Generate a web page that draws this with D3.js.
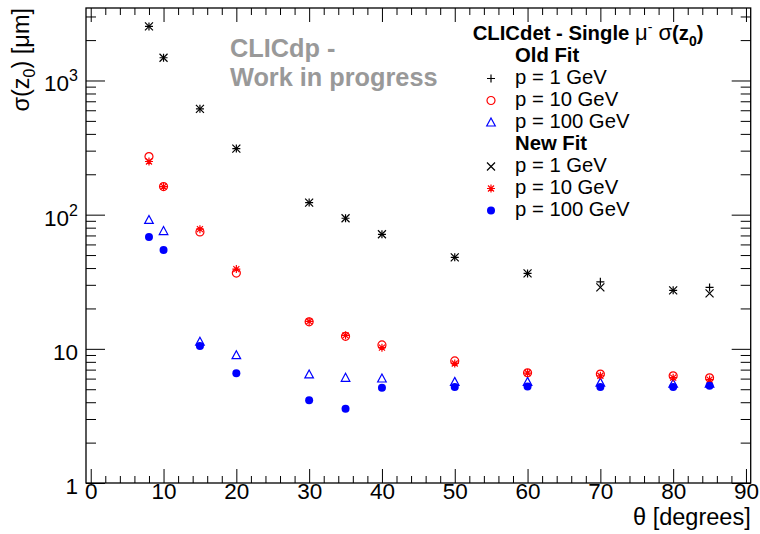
<!DOCTYPE html>
<html>
<head>
<meta charset="utf-8">
<script src="https://cdn.jsdelivr.net/npm/d3@7/dist/d3.min.js"></script>
<style>
  body, html { margin: 0; padding: 0; background: #fff; }
  svg { display: block; font-family: "Liberation Sans", Arial, Helvetica, sans-serif; }
</style>
</head>
<body>
<svg width="760" height="534"></svg>
<script>

  // polar angle of the muon, degrees
  var theta = [8, 10, 15, 20, 30, 35, 40, 50, 60, 70, 80, 85];

  // sigma(z0) in micrometres, old fit
  var old1   = [2530, 1477, 615, 311, 123, 94, 71.4, 48.1, 36.5, 31.6, 27.3, 28.7];
  var old10  = [271, 162, 74.3, 36.7, 15.9, 12.4, 10.7, 8.13, 6.62, 6.48, 6.29, 6.08];
  var old100 = [91.3, 75.5, 11.3, 8.97, 6.44, 6.08, 6.01, 5.67, 5.67, 5.6, 5.5, 5.5];

  // sigma(z0) in micrometres, new fit
  var new1   = [2530, 1477, 615, 311, 123, 94, 71.4, 48.1, 36.5, 28.7, 27.3, 25.9];
  var new10  = [249, 162, 78, 39.3, 16.0, 12.6, 10.2, 7.78, 6.6, 6.3, 6.1, 5.9];
  var new100 = [68.2, 54.5, 10.5, 6.59, 4.14, 3.57, 5.12, 5.2, 5.25, 5.2, 5.2, 5.3];

  var xMajor = [0, 10, 20, 30, 40, 50, 60, 70, 80, 90];
  var yMajor = [1, 10, 100, 1000];
  var yLabels = [['1', ''], ['10', ''], ['10', '2'], ['10', '3']];

  var series = [
    { name: 'p = 1 GeV',   values: old1,   marker: 'plus',     color: '#000' },
    { name: 'p = 10 GeV',  values: old10,  marker: 'circle',   color: '#f00' },
    { name: 'p = 100 GeV', values: old100, marker: 'triangle', color: '#00f' },
    { name: 'p = 1 GeV',   values: new1,   marker: 'cross',    color: '#000' },
    { name: 'p = 10 GeV',  values: new10,  marker: 'star',     color: '#f00' },
    { name: 'p = 100 GeV', values: new100, marker: 'dot',      color: '#00f' }
  ];

  var padL = 86, padR = 750.7, padT = 8, padB = 483;

  var x = d3.scaleLinear().domain([-0.65, 90.65]).range([padL, padR]);
  var y = d3.scaleLog().domain([1, 3470]).range([padB, padT]);

  var svg = d3.select('svg');

  // minor tick values
  var xMinor = d3.range(0, 91, 2).filter(function (d) { return d % 10 !== 0; });
  var yMinor = [];
  yMajor.forEach(function (p) {
    for (var k = 2; k <= 9; k++) if (p * k <= 3470) yMinor.push(p * k);
  });

  function styleAxis(g) {
    g.select('.domain').remove();
    g.selectAll('line').attr('stroke', '#000');
  }

  // x axes (bottom with labels, top mirrored)
  svg.append('g').attr('transform', 'translate(0,' + padB + ')')
    .call(d3.axisBottom(x).tickValues(xMajor).tickSize(-14).tickPadding(0).tickFormat(d3.format('d')))
    .call(styleAxis)
    .selectAll('text').attr('font-size', 22.5).attr('fill', '#000').attr('font-family', null);
  svg.append('g').attr('transform', 'translate(0,' + padB + ')')
    .call(d3.axisBottom(x).tickValues(xMinor).tickSize(-7).tickFormat(''))
    .call(styleAxis);
  svg.append('g').attr('transform', 'translate(0,' + padT + ')')
    .call(d3.axisTop(x).tickValues(xMajor).tickSize(-14).tickFormat(''))
    .call(styleAxis);
  svg.append('g').attr('transform', 'translate(0,' + padT + ')')
    .call(d3.axisTop(x).tickValues(xMinor).tickSize(-7).tickFormat(''))
    .call(styleAxis);

  // y axes (left, right mirrored)
  svg.append('g').attr('transform', 'translate(' + padL + ',0)')
    .call(d3.axisLeft(y).tickValues(yMajor).tickSize(-19).tickFormat(''))
    .call(styleAxis);
  svg.append('g').attr('transform', 'translate(' + padL + ',0)')
    .call(d3.axisLeft(y).tickValues(yMinor).tickSize(-10).tickFormat(''))
    .call(styleAxis);
  svg.append('g').attr('transform', 'translate(' + padR + ',0)')
    .call(d3.axisRight(y).tickValues(yMajor).tickSize(-19).tickFormat(''))
    .call(styleAxis);
  svg.append('g').attr('transform', 'translate(' + padR + ',0)')
    .call(d3.axisRight(y).tickValues(yMinor).tickSize(-10).tickFormat(''))
    .call(styleAxis);

  // y tick labels with superscripts
  yMajor.forEach(function (v, i) {
    var t = svg.append('text')
      .attr('x', padL - 8).attr('y', y(v) + 11)
      .attr('text-anchor', 'end').attr('font-size', 22.5);
    t.append('tspan').text(yLabels[i][0]);
    if (yLabels[i][1]) {
      t.append('tspan').attr('dy', -10).attr('font-size', 16).text(yLabels[i][1]);
    }
  });

  // frame
  svg.append('rect')
    .attr('x', padL).attr('y', padT)
    .attr('width', padR - padL).attr('height', padB - padT)
    .attr('fill', 'none').attr('stroke', '#000').attr('stroke-width', 1.3);

  // axis titles
  svg.append('text')
    .attr('x', padR).attr('y', 525)
    .attr('text-anchor', 'end').attr('font-size', 23.5)
    .text('\u03b8 [degrees]');

  var yt = svg.append('text')
    .attr('transform', 'translate(29,' + padT + ') rotate(-90)')
    .attr('text-anchor', 'end').attr('font-size', 23.5);
  yt.append('tspan').text('\u03c3(z');
  yt.append('tspan').attr('dy', 6).attr('font-size', 16).text('0');
  yt.append('tspan').attr('dy', -6).text(') [\u03bcm]');

  // watermark
  svg.append('text').attr('x', 230).attr('y', 57.3)
    .attr('font-size', 25.3).attr('font-weight', 'bold').attr('fill', '#999')
    .text('CLICdp -');
  svg.append('text').attr('x', 230).attr('y', 85.7)
    .attr('font-size', 25.3).attr('font-weight', 'bold').attr('fill', '#999')
    .text('Work in progress');

  // marker shapes, centred on 0,0
  function markerPath(type) {
    var r = 4;
    switch (type) {
      case 'plus': return 'M' + -r + ',0H' + r + 'M0,' + -r + 'V' + r;
      case 'cross': return 'M' + -r + ',' + -r + 'L' + r + ',' + r + 'M' + -r + ',' + r + 'L' + r + ',' + -r;
      case 'star': return 'M' + -r + ',0H' + r + 'M0,' + -r + 'V' + r +
        'M-3,-3L3,3M-3,3L3,-3';
      case 'triangle': return 'M0,-4.5L4.3,3.5H-4.3Z';
      default: return null;
    }
  }

  function drawMarker(sel, s) {
    if (s.marker === 'circle') {
      sel.append('circle').attr('r', 4).attr('fill', 'none')
        .attr('stroke', s.color).attr('stroke-width', 1.2);
    } else if (s.marker === 'dot') {
      sel.append('circle').attr('r', 4).attr('fill', s.color);
    } else {
      sel.append('path').attr('d', markerPath(s.marker)).attr('fill', 'none')
        .attr('stroke', s.color).attr('stroke-width', 1.2);
    }
  }

  series.forEach(function (s) {
    svg.append('g').selectAll('g')
      .data(s.values)
      .join('g')
      .attr('transform', function (d, i) { return 'translate(' + x(theta[i]) + ',' + y(d) + ')'; })
      .each(function () { drawMarker(d3.select(this), s); });
  });

  // legend
  var lx = 491, tx = 515, ly0 = 40, dy = 22;
  var title = svg.append('text').attr('x', 472.7).attr('y', ly0)
    .attr('font-size', 20.3);
  title.append('tspan').attr('font-weight', 'bold').text('CLICdet - Single ');
  title.append('tspan').attr('font-size', 22).text('\u03bc');
  title.append('tspan').attr('dy', -8).attr('font-size', 14).text('-');
  title.append('tspan').attr('dy', 8).attr('font-size', 22).text(' \u03c3');
  title.append('tspan').attr('font-weight', 'bold').text('(z');
  title.append('tspan').attr('dy', 6).attr('font-size', 14).attr('font-weight', 'bold').text('0');
  title.append('tspan').attr('dy', -6).attr('font-weight', 'bold').text(')');

  var rows = [{ head: 'Old Fit' }].concat(series.slice(0, 3), [{ head: 'New Fit' }], series.slice(3));
  rows.forEach(function (r, i) {
    var yy = ly0 + (i + 1) * dy;
    if (r.head) {
      svg.append('text').attr('x', tx).attr('y', yy)
        .attr('font-size', 20.3).attr('font-weight', 'bold').text(r.head);
    } else {
      var g = svg.append('g').attr('transform', 'translate(' + lx + ',' + (yy - 5.5) + ')');
      drawMarker(g, r);
      svg.append('text').attr('x', tx).attr('y', yy)
        .attr('font-size', 20.3).text(r.name);
    }
  });

</script>
</body>
</html>
